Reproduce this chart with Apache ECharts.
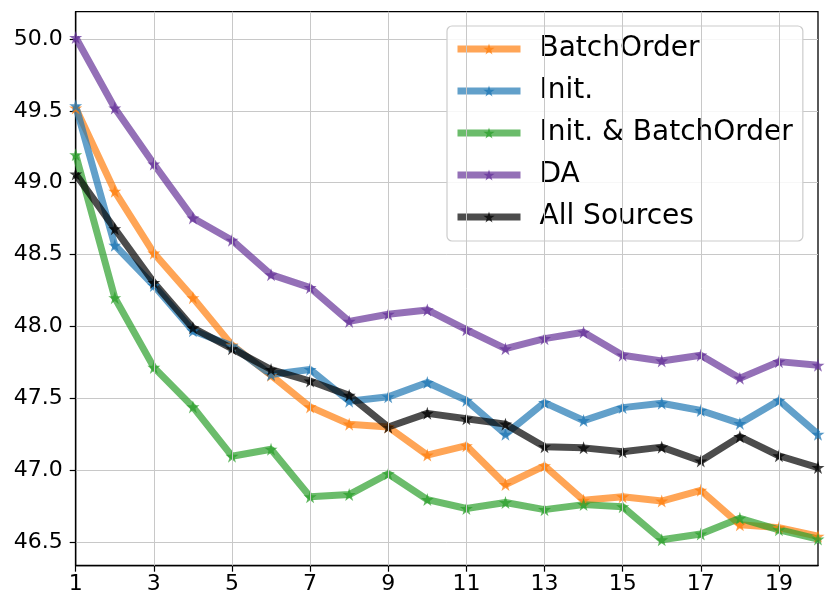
<!DOCTYPE html>
<html>
<head>
<meta charset="utf-8">
<script src="https://cdn.jsdelivr.net/npm/echarts@6/dist/echarts.min.js"></script>
<style>
html,body{margin:0;padding:0;background:#fff;}
#chart{width:830px;height:612px;}
</style>
</head>
<body>
<div id="chart"></div>
<script>
const xs = [1,2,3,4,5,6,7,8,9,10,11,12,13,14,15,16,17,18,19,20];
const batchOrder = [49.52,48.94,48.51,48.20,47.87,47.66,47.44,47.32,47.30,47.105,47.17,46.90,47.03,46.79,46.815,46.785,46.86,46.62,46.60,46.54];
const init = [49.535,48.565,48.285,47.97,47.865,47.665,47.70,47.48,47.51,47.61,47.485,47.25,47.47,47.345,47.435,47.465,47.415,47.325,47.485,47.25];
const initBatchOrder = [49.195,48.20,47.715,47.44,47.097,47.145,46.815,46.83,46.975,46.795,46.733,46.775,46.725,46.76,46.745,46.515,46.555,46.665,46.585,46.52];
const da = [50.01,49.52,49.13,48.755,48.60,48.36,48.27,48.035,48.085,48.115,47.977,47.845,47.915,47.96,47.80,47.76,47.80,47.64,47.755,47.73];
const allSources = [49.06,48.68,48.305,47.99,47.845,47.70,47.62,47.52,47.30,47.395,47.357,47.32,47.163,47.155,47.128,47.16,47.064,47.233,47.10,47.018];
const seriesNames = ['BatchOrder','Init.','Init. & BatchOrder','DA','All Sources'];
const seriesColors = ['#ff7f0e','#1f77b4','#2ca02c','#663399','#000000'];
const xTicks = [1,3,5,7,9,11,13,15,17,19];
const yTicks = [46.5,47.0,47.5,48.0,48.5,49.0,49.5,50.0];

const star = 'path://M50,0 L61.2,34.5 L97.6,34.5 L68.2,55.9 L79.4,90.5 L50,69.1 L20.6,90.5 L31.8,55.9 L2.4,34.5 L38.8,34.5 Z';
const allData = [batchOrder, init, initBatchOrder, da, allSources];
const FONT = 'DejaVu Sans';

const series = seriesNames.map((name, i) => ({
  name: name,
  type: 'line',
  z: 3,
  data: xs.map((x, j) => [x, allData[i][j]]),
  symbol: star,
  symbolSize: 13,
  showSymbol: true,
  clip: true,
  lineStyle: {color: seriesColors[i], width: 7, opacity: 0.7},
  itemStyle: {color: seriesColors[i], opacity: 0.75, borderWidth: 0},
  emphasis: {disabled: true}
}));
// vertical grid lines only at the labelled x ticks (the first one is the left spine)
series.unshift({
  name: 'vgrid', type: 'line', data: [], z: 1, silent: true,
  markLine: {
    silent: true, symbol: ['none','none'], label: {show: false},
    lineStyle: {color: '#c8c8c8', width: 1, type: 'solid'},
    emphasis: {disabled: true},
    data: xTicks.slice(1).map(v => ({xAxis: v}))
  }
});

const chart = echarts.init(document.getElementById('chart'), null, {renderer:'canvas'});
chart.setOption({
  animation: false,
  backgroundColor: '#fff',
  textStyle: {fontFamily: FONT},
  grid: {left: 75.7, right: 12, top: 11.7, bottom: 46.3, show: true, borderColor: '#000', borderWidth: 1.3, containLabel: false},
  xAxis: {
    type: 'value', min: 1, max: 20, interval: 2,
    axisLine: {show: true, lineStyle: {color: '#000', width: 1.3}},
    axisTick: {show: true, inside: false, length: 6, lineStyle: {color: '#000', width: 1.2}, customValues: xTicks},
    axisLabel: {show: true, customValues: xTicks, fontSize: 22, color: '#000', fontFamily: FONT, margin: 8},
    splitLine: {show: false},
    minorSplitLine: {show: false},
    minorTick: {show: false}
  },
  yAxis: {
    type: 'value', min: 46.335, max: 50.19, minInterval: 0.5, maxInterval: 0.5, splitNumber: 8,
    axisLine: {show: true, lineStyle: {color: '#000', width: 1.3}},
    axisTick: {show: true, inside: false, length: 6, lineStyle: {color: '#000', width: 1.2}, customValues: yTicks},
    axisLabel: {show: true, customValues: yTicks, fontSize: 22, color: '#000', fontFamily: FONT, margin: 13,
      formatter: v => v.toFixed(1)},
    splitLine: {show: true, lineStyle: {color: '#c8c8c8', width: 1}}
  },
  legend: {
    left: 447, top: 26, orient: 'vertical',
    data: seriesNames,
    itemWidth: 63, itemHeight: 14, itemGap: 10,
    padding: [7, 10, 8, 7],
    backgroundColor: 'rgba(255,255,255,0.85)',
    borderColor: '#cccccc', borderWidth: 1.2, borderRadius: 5,
    lineStyle: {width: 7, opacity: 0.7},
    itemStyle: {opacity: 0.75},
    textStyle: {fontSize: 28, color: '#000', fontFamily: FONT, padding: [0,0,0,14], lineHeight: 32}
  },
  series: series
});
</script>
</body>
</html>
